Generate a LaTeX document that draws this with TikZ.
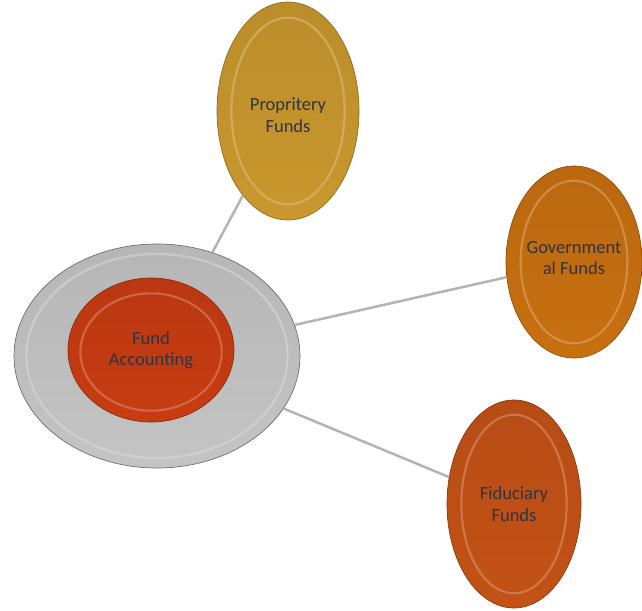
\documentclass[tikz,border=0pt]{standalone}
\usepackage{fontspec}
\setmainfont{Carlito}
\usetikzlibrary{shapes.geometric}
\definecolor{ringgrey}{RGB}{196,196,196}
\definecolor{acctred}{RGB}{200,60,18}
\definecolor{propgold}{RGB}{201,152,46}
\definecolor{govorange}{RGB}{200,112,16}
\definecolor{fidorange}{RGB}{196,82,22}
\definecolor{fundtext}{RGB}{45,52,66}
\definecolor{linkgrey}{RGB}{180,180,180}
\newcommand\fundfont{\fontsize{13.9}{16.2}\selectfont}
\tikzset{
  % General oval button
  fund/.style={ellipse, draw=#1!70!black, line width=0.5pt,
    top color=#1!93!black, bottom color=#1, inner sep=0pt,
    text=fundtext, align=center, font=\fundfont},
  % Outer ring of the hub
  ring/.style={fund=ringgrey, draw=ringgrey!55!black},
  % Inner rim of a button
  bevel/.style={draw=#1!50!white, line width=1.6pt, opacity=0.45},
  % Connectors
  link/.style={draw=linkgrey, line width=1.9pt},
}

\begin{document}
\begin{tikzpicture}[x=0.75pt, y=-0.75pt]
  \useasboundingbox (0,0) rectangle (642,610);

  \node[ring, minimum width=214.5pt, minimum height=168pt] (ring) at (157,356) {};
  \node[fund=acctred, minimum width=124.5pt, minimum height=108pt] (acct) at (151,350) {};
  \node[fund=propgold, minimum width=106.5pt, minimum height=163.5pt] (prop) at (288,111) {};
  \node[fund=govorange, minimum width=102pt, minimum height=144pt] (gov) at (574,262) {};
  \node[fund=fidorange, minimum width=100.5pt, minimum height=156pt] (fid) at (514,504) {};

  % inner rims
  \draw[bevel=ringgrey] (ring.center) ellipse [x radius=98pt, y radius=76.5pt];
  \draw[bevel=acctred] ([yshift=-1.5pt]acct.center) ellipse [x radius=53pt, y radius=44pt];
  \draw[bevel=propgold] (prop.center) ellipse [x radius=42.5pt, y radius=70pt];
  \draw[bevel=govorange] (gov.center) ellipse [x radius=40pt, y radius=61pt];
  \draw[bevel=fidorange] (fid.center) ellipse [x radius=39.5pt, y radius=67pt];

  \node[text=fundtext, align=center, font=\fundfont] at (acct) {Fund\\Accounting};
  \node[text=fundtext, align=center, font=\fundfont] at ([yshift=-3pt]prop.center) {Propritery\\Funds};
  \node[text=fundtext, align=center, font=\fundfont] at ([yshift=3pt]gov.center) {Government\\al Funds};
  \node[text=fundtext, align=center, font=\fundfont] at (fid) {Fiduciary\\Funds};

  \draw[link] (ring) -- (prop);
  \draw[link] (ring) -- (gov);
  \draw[link] (ring) -- (fid);
\end{tikzpicture}
\end{document}
